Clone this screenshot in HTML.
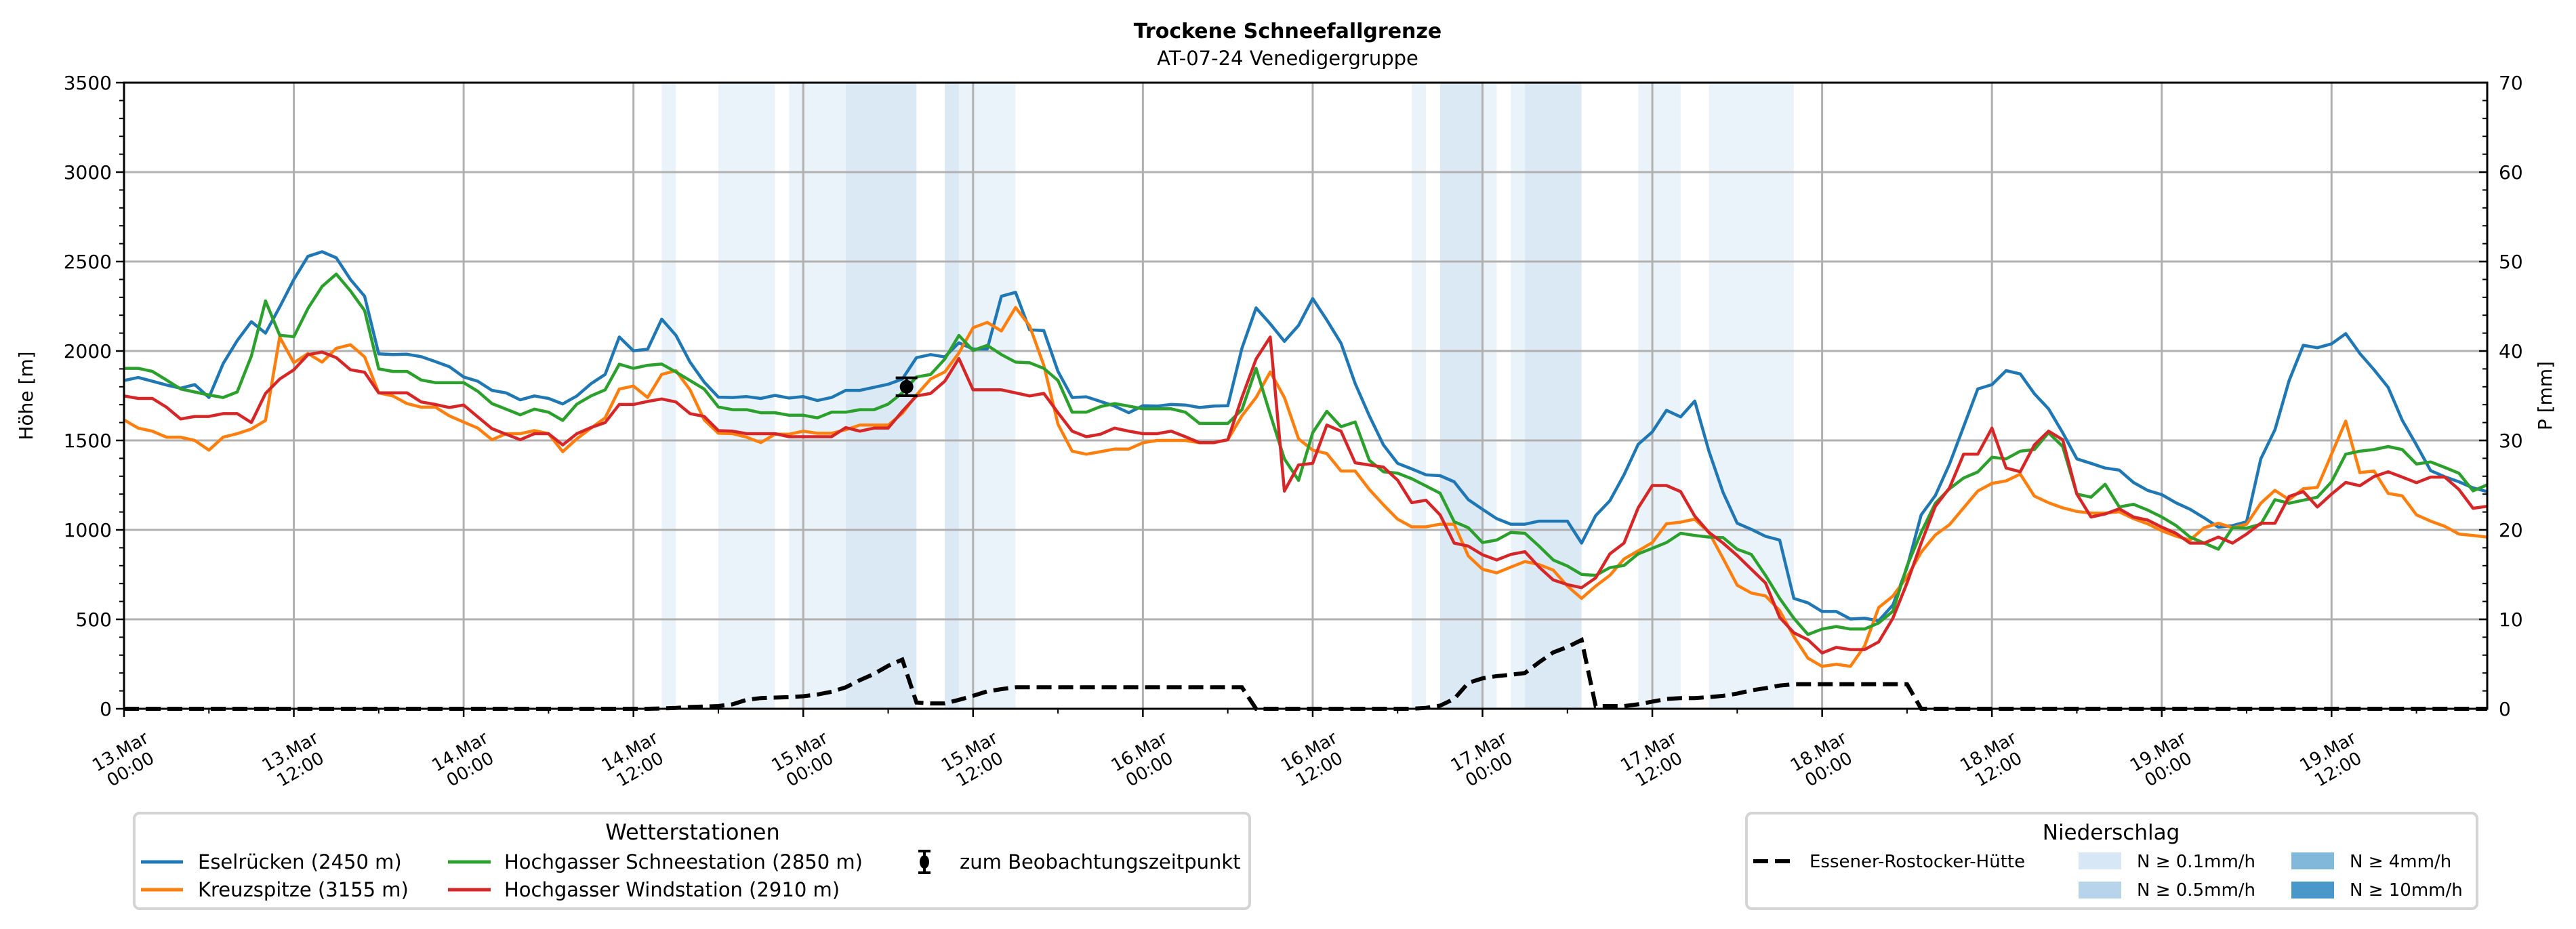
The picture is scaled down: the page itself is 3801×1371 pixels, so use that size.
<!DOCTYPE html>
<html><head><meta charset="utf-8">
<style>
html,body{margin:0;padding:0;background:#fff;}
svg{display:block;font-family:"DejaVu Sans","Liberation Sans",sans-serif;}
</style></head>
<body>
<svg id="chart" width="3801" height="1371" viewBox="0 0 3801 1371" xmlns="http://www.w3.org/2000/svg">
<rect width="3801" height="1371" fill="#fff"/>
<text x="1900" y="56" font-size="30" font-weight="bold" text-anchor="middle">Trockene Schneefallgrenze</text>
<text x="1900" y="96" font-size="29" text-anchor="middle">AT-07-24 Venedigergruppe</text>
<g id="bands"></g>
<g id="grid"></g>
<g id="series"></g>
<g id="axes"></g>
<text transform="translate(48,584) rotate(-90)" font-size="28" text-anchor="middle">Höhe [m]</text>
<text transform="translate(3765,584) rotate(-90)" font-size="28" text-anchor="middle">P [mm]</text>

<g>
<rect x="198" y="1200" width="1646" height="141" rx="8" fill="#fff" stroke="#d4d4d4" stroke-width="4"/>
<text x="1022" y="1239" font-size="32" text-anchor="middle">Wetterstationen</text>
<g><line x1="208" y1="1272" x2="270" y2="1272" stroke="#1f77b4" stroke-width="5"/><text x="292" y="1282" font-size="29">Eselrücken (2450 m)</text></g>
<g><line x1="208" y1="1313" x2="270" y2="1313" stroke="#ff7f0e" stroke-width="5"/><text x="292" y="1323" font-size="29">Kreuzspitze (3155 m)</text></g>
<g><line x1="661" y1="1272" x2="724" y2="1272" stroke="#2ca02c" stroke-width="5"/><text x="744" y="1282" font-size="29">Hochgasser Schneestation (2850 m)</text></g>
<g><line x1="661" y1="1313" x2="724" y2="1313" stroke="#d62728" stroke-width="5"/><text x="744" y="1323" font-size="29">Hochgasser Windstation (2910 m)</text></g>
<g><line x1="1364" y1="1256" x2="1364" y2="1288" stroke="#000" stroke-width="4"/><line x1="1355" y1="1256" x2="1373" y2="1256" stroke="#000" stroke-width="4"/><line x1="1355" y1="1288" x2="1373" y2="1288" stroke="#000" stroke-width="4"/><ellipse cx="1364" cy="1272" rx="7" ry="10"/><text x="1416" y="1282" font-size="29">zum Beobachtungszeitpunkt</text></g>
</g>

<g>
<rect x="2577" y="1200" width="1078" height="141" rx="8" fill="#fff" stroke="#d4d4d4" stroke-width="4"/>
<text x="3115" y="1239" font-size="31" text-anchor="middle">Niederschlag</text>
<g><line x1="2587" y1="1271" x2="2645" y2="1271" stroke="#000" stroke-width="6" stroke-dasharray="22,10"/><text x="2670" y="1280" font-size="26">Essener-Rostocker-Hütte</text></g>
<g><rect x="3067" y="1258" width="63" height="25" fill="#d8e7f5"/><text x="3153" y="1280" font-size="26">N ≥ 0.1mm/h</text></g>
<g><rect x="3067" y="1301" width="63" height="25" fill="#b8d4ea"/><text x="3153" y="1322" font-size="26">N ≥ 0.5mm/h</text></g>
<g><rect x="3381" y="1258" width="63" height="25" fill="#82b9db"/><text x="3467" y="1280" font-size="26">N ≥ 4mm/h</text></g>
<g><rect x="3381" y="1301" width="63" height="25" fill="#4a98c9"/><text x="3467" y="1322" font-size="26">N ≥ 10mm/h</text></g>
</g>
</svg>
<script>
const eselruecken = [1835,1852,1831,1810,1792,1812,1740,1929,2058,2164,2100,2246,2400,2529,2555,2521,2400,2306,1984,1980,1982,1968,1941,1912,1855,1831,1780,1766,1727,1749,1735,1704,1749,1817,1869,2078,2001,2010,2178,2088,1938,1826,1742,
1740,1745,1735,1752,1737,1745,1723,1740,1780,1780,1797,1814,1843,1963,1980,1967,2046,2011,2011,2306,2328,2118,2114,1886,1740,1744,1718,1692,1655,1694,1692,1701,1698,1684,1692,1694,2015,2241,2152,2054,2143,
2293,2173,2044,1818,1638,1475,1372,1341,1308,1303,1269,1169,1115,1063,1032,1032,1049,1049,1049,926,1080,1163,1308,1478,1548,1668,1632,1720,1440,1209,1037,1003,964,943,617,592,544,544,502,506,492,580,
789,1084,1192,1368,1577,1788,1812,1890,1872,1761,1677,1543,1397,1372,1346,1334,1265,1221,1197,1152,1115,1067,1015,1024,1046,1397,1560,1835,2032,2018,2040,2097,1986,1895,1797,1612,1475,1331,1297,1269,1235,1214];
const kreuzspitze = [1615,1569,1552,1518,1518,1500,1446,1518,1538,1564,1612,2078,1934,1986,1938,2015,2035,1967,1766,1749,1706,1686,1686,1637,1603,1569,1504,1538,1538,1555,1538,1437,1509,1569,1626,1787,1804,1740,1869,1890,1783,1615,1540,
1538,1518,1488,1535,1535,1552,1540,1540,1560,1586,1586,1586,1651,1754,1843,1883,1989,2130,2160,2112,2243,2140,1920,1591,1440,1423,1437,1452,1452,1487,1500,1500,1500,1487,1487,1504,1637,1740,1883,1740,1509,
1446,1427,1329,1329,1226,1140,1060,1017,1017,1032,1032,854,780,760,792,823,806,775,686,617,686,746,837,883,929,1034,1043,1060,986,840,691,647,631,549,403,283,237,249,237,351,566,630,
737,875,972,1029,1123,1217,1260,1274,1312,1189,1152,1123,1103,1094,1094,1101,1063,1034,995,965,943,1012,1037,1012,1032,1149,1221,1169,1230,1238,1423,1608,1320,1329,1204,1190,1084,1049,1020,977,969,960];
const schneestation = [1903,1903,1886,1838,1788,1771,1754,1740,1771,1972,2280,2088,2080,2238,2361,2430,2336,2226,1900,1886,1886,1838,1823,1823,1823,1775,1706,1675,1643,1675,1658,1612,1703,1749,1783,1926,1903,1920,1927,1883,1835,1787,1687,
1672,1672,1655,1655,1641,1641,1626,1658,1658,1672,1672,1703,1766,1855,1869,1955,2087,2003,2032,1980,1938,1934,1903,1835,1658,1658,1689,1706,1692,1677,1677,1677,1658,1595,1595,1595,1672,1903,1646,1397,1277,
1543,1663,1577,1603,1389,1325,1317,1286,1246,1205,1046,1012,929,943,986,981,909,832,798,751,746,789,801,866,897,929,981,969,960,957,892,863,746,617,506,415,446,460,446,446,480,545,
798,986,1149,1230,1290,1324,1406,1397,1440,1449,1543,1466,1200,1183,1255,1128,1143,1111,1072,1025,960,926,892,1012,1010,1032,1169,1149,1166,1183,1269,1423,1440,1449,1466,1449,1368,1380,1349,1317,1218,1252];
const windstation = [1749,1735,1735,1686,1620,1634,1634,1650,1650,1600,1763,1843,1895,1980,1994,1963,1895,1881,1766,1766,1766,1715,1701,1684,1698,1632,1566,1535,1504,1538,1538,1475,1538,1572,1600,1701,1701,1718,1732,1715,1650,1634,1555,
1552,1538,1538,1538,1521,1521,1521,1521,1572,1552,1569,1569,1663,1749,1763,1831,1958,1783,1783,1783,1766,1749,1763,1655,1552,1521,1535,1569,1552,1538,1538,1552,1521,1488,1488,1504,1740,1955,2078,1217,1363,
1372,1586,1552,1375,1363,1351,1278,1152,1166,1084,926,909,861,832,863,878,792,720,694,677,732,866,926,1123,1248,1248,1214,1077,986,926,857,780,703,511,425,386,312,343,331,331,374,506,
703,926,1132,1235,1423,1423,1569,1346,1325,1475,1552,1504,1200,1072,1089,1118,1072,1055,1015,981,926,926,960,926,977,1037,1037,1187,1214,1128,1200,1265,1247,1298,1325,1295,1264,1295,1295,1226,1121,1132];
const precipHut = [0,0,0,0,0,0,0,0,0,0,0,0,0,0,0,0,0,0,0,0,0,0,0,0,0,0,0,0,0,0,0,0,0,0,0,0,0,0,0.04,0.1,0.2,0.25,0.3,
0.5,1.0,1.2,1.25,1.3,1.4,1.6,1.9,2.4,3.2,3.9,4.8,5.5,0.7,0.6,0.6,1.0,1.45,1.95,2.2,2.4,2.4,2.4,2.4,2.4,2.4,2.4,2.4,2.4,2.4,2.4,2.4,2.4,2.4,2.4,2.4,2.4,0,0,0,0,
0,0,0,0,0,0,0,0,0.1,0.35,1.1,2.9,3.4,3.65,3.8,4.0,5.2,6.3,6.9,7.7,0.3,0.3,0.3,0.5,0.8,1.1,1.2,1.2,1.3,1.45,1.7,2.05,2.3,2.6,2.75,2.75,2.75,2.75,2.75,2.75,2.75,2.75,
2.75,0,0,0,0,0,0,0,0,0,0,0,0,0,0,0,0,0,0,0,0,0,0,0,0,0,0,0,0,0,0,0,0,0,0,0,0,0,0,0,0,0];
const bandStart = [38,42,47,51,58,59,91,93,96,98,99,107,112];
const bandEnd   = [39,46,51,56,59,63,92,96,97,99,103,110,118];
const bandLevel = [1,1,1,2,2,1,1,2,1,1,2,1,1];
const obsHour = [55.3];
const obsValue = [1800];
const obsErr = [50];
const xTickLabels = ["13.Mar|00:00","13.Mar|12:00","14.Mar|00:00","14.Mar|12:00","15.Mar|00:00","15.Mar|12:00","16.Mar|00:00","16.Mar|12:00","17.Mar|00:00","17.Mar|12:00","18.Mar|00:00","18.Mar|12:00","19.Mar|00:00","19.Mar|12:00"];
const yTicks = [0,500,1000,1500,2000,2500,3000,3500];
const y2Ticks = [0,10,20,30,40,50,60,70];

const L=183, R=3670, T=122, B=1046, HMAX=167;
const NS="http://www.w3.org/2000/svg";
function X(h){return L+(R-L)*h/HMAX;}
function Y(m){return B-(B-T)*m/3500;}
function Y2(p){return B-(B-T)*p/70;}
function mk(tag,attrs,parent){const e=document.createElementNS(NS,tag);for(const k in attrs)e.setAttribute(k,attrs[k]);parent.appendChild(e);return e;}

const bands=document.getElementById('bands');
const bandColors=["","#ebf3fa","#dbe9f4","#c0dced","#a4cbe4"];
for(let i=0;i<bandStart.length;i++){
  const r=mk('rect',{x:X(bandStart[i]),y:T,width:X(bandEnd[i])-X(bandStart[i]),height:B-T,fill:bandColors[bandLevel[i]]},bands);
  
  
}
const grid=document.getElementById('grid');
yTicks.forEach(v=>{const g=mk('line',{x1:L,x2:R,y1:Y(v),y2:Y(v),stroke:'#b0b0b0','stroke-width':3},grid);
  
  });
xTickLabels.forEach((s,i)=>{const g=mk('line',{x1:X(i*12),x2:X(i*12),y1:T,y2:B,stroke:'#b0b0b0','stroke-width':3},grid);
  
  });

const series=document.getElementById('series');
function line(data,color,name){
  const d=data.map((v,i)=>(i?'L':'M')+X(i).toFixed(1)+','+Y(v).toFixed(1)).join('');
  const p=mk('path',{d:d,fill:'none',stroke:color,'stroke-width':4.5,'stroke-linejoin':'round'},series);
  
  
}
line(eselruecken,'#1f77b4','line-eselruecken');
line(kreuzspitze,'#ff7f0e','line-kreuzspitze');
line(schneestation,'#2ca02c','line-hochgasser-schneestation');
line(windstation,'#d62728','line-hochgasser-windstation');
const pd=precipHut.map((v,i)=>(i?'L':'M')+X(i).toFixed(1)+','+Y2(v).toFixed(1)).join('');
const pp=mk('path',{d:pd,fill:'none',stroke:'#000','stroke-width':6,'stroke-dasharray':'22,10'},series);


obsHour.forEach((h,i)=>{
  const g=mk('g',{},series);
  
  
  const x=X(h);
  mk('line',{x1:x,x2:x,y1:Y(obsValue[i]+obsErr[i]),y2:Y(obsValue[i]-obsErr[i]),stroke:'#000','stroke-width':4},g);
  mk('line',{x1:x-16,x2:x+16,y1:Y(obsValue[i]+obsErr[i]),y2:Y(obsValue[i]+obsErr[i]),stroke:'#000','stroke-width':4},g);
  mk('line',{x1:x-16,x2:x+16,y1:Y(obsValue[i]-obsErr[i]),y2:Y(obsValue[i]-obsErr[i]),stroke:'#000','stroke-width':4},g);
  mk('circle',{cx:x,cy:Y(obsValue[i]),r:10,fill:'#000'},g);
});

const axes=document.getElementById('axes');
mk('rect',{x:L,y:T,width:R-L,height:B-T,fill:'none',stroke:'#000','stroke-width':3},axes);
for(let v=0;v<=3500;v+=100){const maj=v%500===0;mk('line',{x1:L,x2:L-(maj?12:7),y1:Y(v),y2:Y(v),stroke:'#000','stroke-width':maj?2.5:2},axes);}
yTicks.forEach(v=>{const t=mk('text',{x:L-18,y:Y(v)+10,'font-size':28,'text-anchor':'end'},axes);t.textContent=v;
  
  });
for(let v=0;v<=70;v+=2){const maj=v%10===0;mk('line',{x1:R,x2:R-(maj?12:7),y1:Y2(v),y2:Y2(v),stroke:'#000','stroke-width':maj?2.5:2},axes);}
y2Ticks.forEach(v=>{const t=mk('text',{x:R+17,y:Y2(v)+10,'font-size':28,'text-anchor':'start'},axes);t.textContent=v;
  
  });
for(let h=0;h<=HMAX;h+=6){const maj=h%12===0;mk('line',{x1:X(h),x2:X(h),y1:B,y2:B+(maj?12:7),stroke:'#000','stroke-width':maj?2.5:2},axes);}
xTickLabels.forEach((s,i)=>{
  const parts=s.split('|');
  const cx=X(i*12)+2, cy=1122;
  const t=mk('text',{transform:'translate('+cx+','+cy+') rotate(-30)','font-size':26,'text-anchor':'middle'},axes);
  
  
  const a=mk('tspan',{x:0,y:-6},t);a.textContent=parts[0];
  const b=mk('tspan',{x:0,y:24},t);b.textContent=parts[1];
});
</script>
</body></html>
